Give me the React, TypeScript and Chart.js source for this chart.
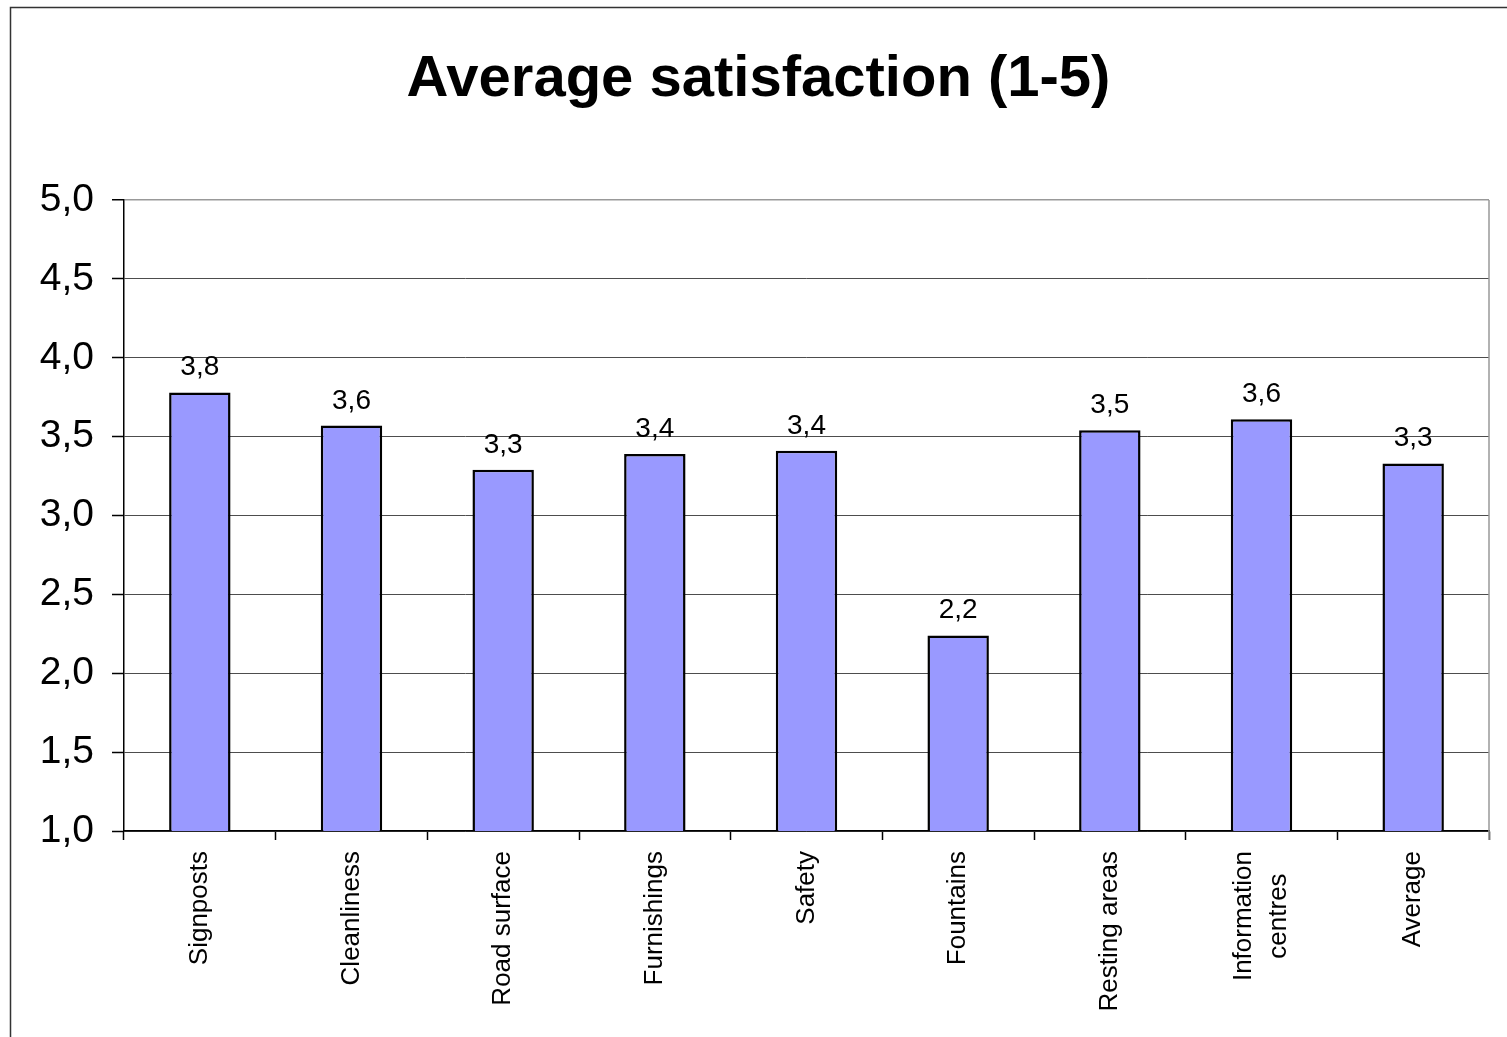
import React, { useEffect, useRef } from "react";
import { Chart, registerables } from "chart.js";

Chart.register(...registerables);

const categories: string[][] = [
  ["Signposts"],
  ["Cleanliness"],
  ["Road surface"],
  ["Furnishings"],
  ["Safety"],
  ["Fountains"],
  ["Resting areas"],
  ["Information", "centres"],
  ["Average"],
];
const satisfaction: number[] = [3.78, 3.57, 3.29, 3.39, 3.41, 2.24, 3.54, 3.61, 3.33];
const titleText = "Average satisfaction (1-5)";
const yMin = 1;
const yMax = 5;
const yStep = 0.5;

const FONT = "'Liberation Sans', Arial, sans-serif";
const fmt = (v: number, d: number) => v.toFixed(d).replace(".", ",");

const decorPlugin = {
  id: "decor",
  beforeDraw(chart: any) {
    const ctx = chart.ctx;
    ctx.save();
    ctx.fillStyle = "#ffffff";
    ctx.fillRect(0, 0, chart.width, chart.height);
    ctx.strokeStyle = "#333333";
    ctx.lineWidth = 1.5;
    ctx.beginPath();
    ctx.moveTo(10.5, chart.height);
    ctx.lineTo(10.5, 7.5);
    ctx.lineTo(chart.width, 7.5);
    ctx.stroke();
    ctx.fillStyle = "#000000";
    ctx.font = `bold 58px ${FONT}`;
    ctx.textAlign = "center";
    ctx.textBaseline = "alphabetic";
    ctx.fillText(titleText, (10 + chart.width) / 2, 96);
    ctx.restore();
  },
  afterDraw(chart: any) {
    const ctx = chart.ctx;
    const area = chart.chartArea;
    const xScale = chart.scales.x;
    const meta = chart.getDatasetMeta(0);
    ctx.save();
    ctx.strokeStyle = "#999999";
    ctx.lineWidth = 1.5;
    ctx.beginPath();
    ctx.moveTo(area.right, area.top);
    ctx.lineTo(area.right, area.bottom + 9);
    ctx.stroke();

    ctx.fillStyle = "#000000";
    ctx.font = `28px ${FONT}`;
    ctx.textAlign = "center";
    ctx.textBaseline = "alphabetic";
    meta.data.forEach((bar: any, i: number) => {
      ctx.fillText(fmt(satisfaction[i], 1), bar.x, bar.y - 17);
    });

    ctx.font = `26px ${FONT}`;
    const lineH = 35;
    categories.forEach((lines, i) => {
      const cx = xScale.getPixelForValue(i);
      const widths = lines.map((l) => ctx.measureText(l).width);
      const maxW = Math.max(...widths);
      ctx.save();
      ctx.translate(cx, area.bottom + 20);
      ctx.rotate(-Math.PI / 2);
      ctx.textAlign = "center";
      ctx.textBaseline = "middle";
      lines.forEach((l, j) => {
        const off = (j - (lines.length - 1) / 2) * lineH;
        ctx.fillText(l, -maxW / 2, off);
      });
      ctx.restore();
    });
    ctx.restore();
  },
};

export default function App() {
  const ref = useRef<HTMLCanvasElement | null>(null);
  useEffect(() => {
    if (!ref.current) return;
    const chart = new Chart(ref.current, {
      type: "bar",
      data: {
        labels: categories.map((c) => c.join(" ")),
        datasets: [
          {
            data: satisfaction,
            backgroundColor: "#9999FF",
            borderColor: "#000000",
            borderWidth: 2.5,
            borderSkipped: false,
            barPercentage: 0.405,
            categoryPercentage: 1,
          },
        ],
      },
      options: {
        responsive: false,
        animation: false,
        devicePixelRatio: 1,
        layout: { padding: { left: 0, right: 18, top: 200, bottom: 0 } },
        plugins: {
          legend: { display: false },
          tooltip: { enabled: false },
          title: { display: false },
        },
        scales: {
          x: {
            type: "category",
            offset: true,
            grid: {
              display: true,
              drawOnChartArea: false,
              drawTicks: true,
              tickLength: 9,
              offset: true,
              tickColor: "#000000",
              tickWidth: 1.5,
            },
            border: { display: true, color: "#000000", width: 1.5 },
            ticks: { display: false },
            afterFit: (scale: any) => {
              scale.height = 206;
            },
          },
          y: {
            min: yMin,
            max: yMax,
            grid: {
              color: (ctx: any) => (ctx.tick && ctx.tick.value === yMax ? "#999999" : "#4d4d4d"),
              lineWidth: (ctx: any) => (ctx.tick && ctx.tick.value === yMax ? 1.5 : 1),
              tickLength: 12,
              tickColor: "#000000",
              tickWidth: 1.5,
            },
            border: { display: true, color: "#000000", width: 1.5 },
            ticks: {
              stepSize: yStep,
              color: "#000000",
              padding: 18,
              font: { family: FONT, size: 39 },
              callback: (v: any) => fmt(Number(v), 1),
            },
            afterFit: (scale: any) => {
              scale.width = 124;
            },
          },
        },
      },
      plugins: [decorPlugin],
    });
    return () => chart.destroy();
  }, []);
  return (
    <div style={{ position: "fixed", left: 0, top: 0, width: 1507, height: 1037 }}>
      <canvas ref={ref} width={1507} height={1037} style={{ display: "block" }} />
    </div>
  );
}
